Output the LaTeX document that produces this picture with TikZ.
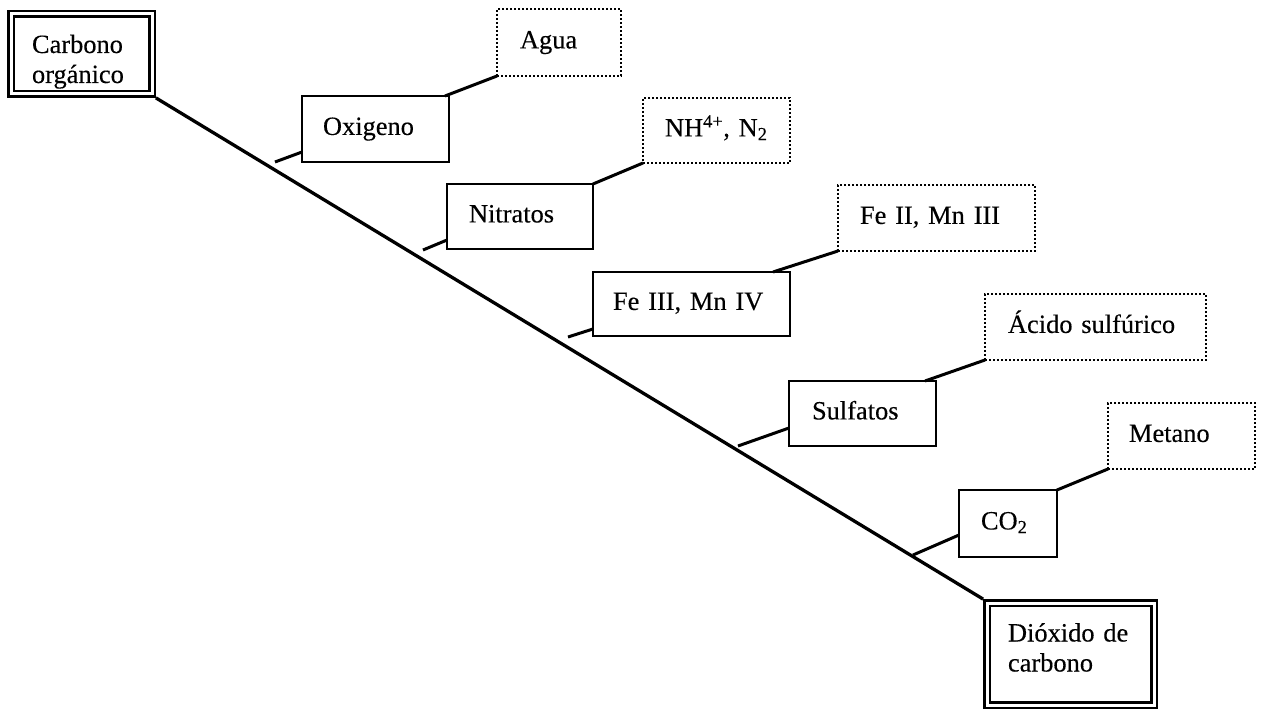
\documentclass[tikz,border=0pt]{standalone}
\usepackage{fontspec}
\setmainfont[FakeBold=0.3]{Liberation Serif}
% two left-aligned lines, lowered or raised inside their box without changing its size
\newcommand{\stackedlabel}[3]{\raisebox{#1}[\height][\depth]{\begin{tabular}{@{}l@{}}#2\\#3\end{tabular}}}
\begin{document}
\begin{tikzpicture}[x=1pt,y=-1pt,
  labelfont/.style={font={\fontsize{26.4pt}{30pt}\selectfont}},
  boxbase/.style={rectangle, labelfont, align=left, inner ysep=0pt, outer sep=0pt},
  oneline/.style={text height=18.5pt, text depth=6.6pt},
  solidbox/.style={boxbase, oneline, draw, line width=2.3pt},
  dotbox/.style={boxbase, oneline, draw, line width=2pt, dash pattern=on 1.8pt off 2.2pt},
  endbox/.style={boxbase, draw, double, line width=2.4pt, double distance=3pt, outer sep=3.9pt},
  mainline/.style={line width=3.3pt},
  link/.style={line width=3pt},
]
\useasboundingbox (0,0) rectangle (1264,711);

% start and end of the chain
\node[endbox, minimum width=141pt, minimum height=80pt, text width=99pt, inner xsep=21pt]
  (carbono) at (81.5,54) {\stackedlabel{-8pt}{Carbono}{orgánico}};
\node[endbox, minimum width=167pt, minimum height=102pt, text width=125pt, inner xsep=21pt]
  (dioxido) at (1070.5,654) {\stackedlabel{3.5pt}{Dióxido de}{carbono}};

% electron acceptors
\node[solidbox, minimum height=66pt, text width=105pt, inner xsep=21pt] (oxi) at (375.5,129) {Oxigeno};
\node[solidbox, minimum height=65pt, text width=102pt, inner xsep=22pt] (nitratos) at (520,216.5) {Nitratos};
\node[solidbox, minimum height=64pt, text width=157pt, inner xsep=20pt] (fe3) at (691.5,304) {Fe III, Mn IV};
\node[solidbox, minimum height=65pt, text width=101pt, inner xsep=23pt] (sulfatos) at (862.5,413.5) {Sulfatos};
\node[solidbox, minimum height=67pt, text width=54pt, inner xsep=22pt] (co2) at (1008,523.5) {CO\textsubscript{2}};

% reduced products
\node[dotbox, minimum height=67pt, text width=78pt, inner xsep=23pt] (agua) at (559,42.5) {Agua};
\node[dotbox, minimum height=65pt, text width=103pt, inner xsep=22pt] (nh) at (716.5,130.5) {\mbox{NH\textsuperscript{4+}, N\textsubscript{2}}};
\node[dotbox, minimum height=66pt, text width=153pt, inner xsep=22pt] (fe2) at (936.5,218) {Fe II, Mn III};
\node[dotbox, minimum height=66pt, text width=175pt, inner xsep=23pt] (acido) at (1095.5,327) {Ácido sulfúrico};
\node[dotbox, minimum height=66pt, text width=105pt, inner xsep=21pt] (metano) at (1181.5,436) {Metano};

% main diagonal
\draw[mainline] (carbono.south east) -- (dioxido.north west);

% ticks from the diagonal to each acceptor
\coordinate (t1) at (275,162);
\coordinate (t2) at (423,250);
\coordinate (t3) at (568,337);
\coordinate (t4) at (738,446);
\coordinate (t5) at (913,555);
\draw[link] (t1) -- ([yshift=10pt]oxi.south west);
\draw[link] (t2) -- ([yshift=9pt]nitratos.south west);
\draw[link] (t3) -- ([yshift=7pt]fe3.south west);
\draw[link] (t4) -- ([yshift=18pt]sulfatos.south west);
\draw[link] (t5) -- ([yshift=22pt]co2.south west);

% acceptor to product
\draw[link] ([xshift=-4pt]oxi.north east) -- (agua.south west);
\draw[link] (nitratos.north east) -- (nh.south west);
\draw[link] ([xshift=-17pt]fe3.north east) -- (fe2.south west);
\draw[link] ([xshift=-11pt]sulfatos.north east) -- (acido.south west);
\draw[link] (co2.north east) -- (metano.south west);
\end{tikzpicture}
\end{document}
